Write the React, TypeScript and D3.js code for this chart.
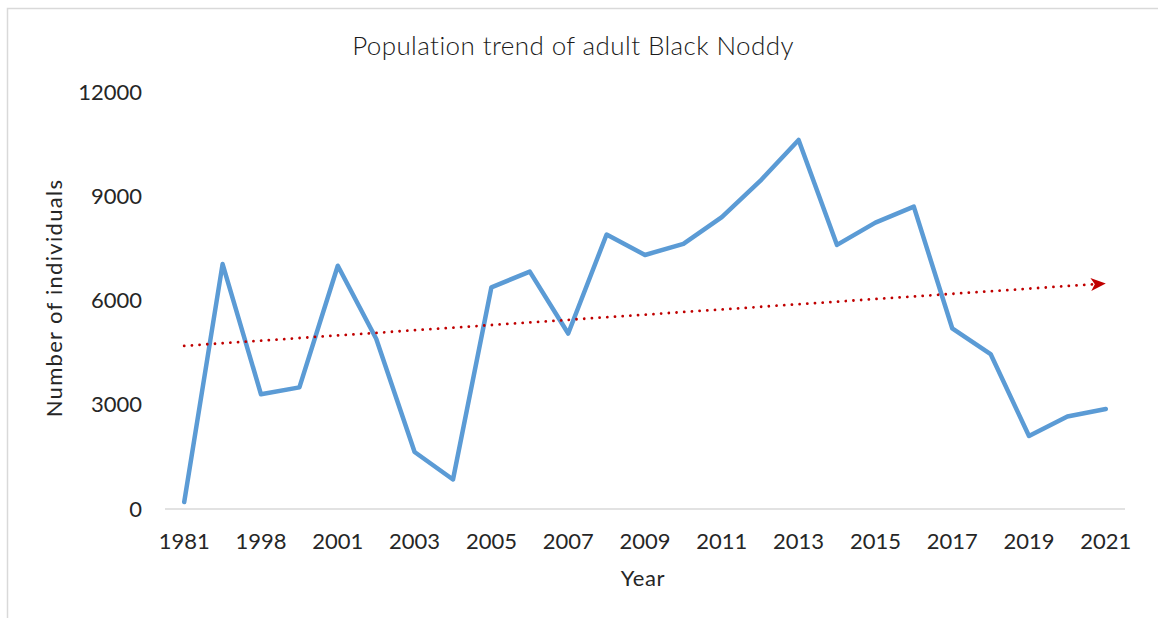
import React, { useEffect, useRef } from "react";
import * as d3 from "d3";

// Survey years (every other label is shown on the axis)
const years: string[] = [
  "1981", "1997", "1998", "2000", "2001", "2002", "2003", "2004", "2005",
  "2006", "2007", "2008", "2009", "2010", "2011", "2012", "2013", "2014",
  "2015", "2016", "2017", "2018", "2019", "2020", "2021",
];

// Adult Black Noddy counts
const counts: number[] = [
  200, 7050, 3300, 3500, 7000, 4900, 1640, 850, 6380, 6830, 5050, 7900, 7310,
  7630, 8400, 9440, 10620, 7600, 8240, 8700, 5200, 4460, 2100, 2660, 2880,
];

const yTicks: number[] = [0, 3000, 6000, 9000, 12000];

const W = 1158;
const H = 618;
const FONT = "Lato, 'Open Sans', sans-serif";

export default function App() {
  const ref = useRef<SVGSVGElement>(null);

  useEffect(() => {
    const svg = d3.select(ref.current);
    svg.selectAll("*").remove();

    const left = 165;
    const right = 1125;
    const top = 92;
    const bottom = 509;

    const x = d3.scaleBand<string>().domain(years).range([left, right]);
    const cx = (d: string) => (x(d) as number) + x.bandwidth() / 2;
    const y = d3.scaleLinear().domain([0, 12000]).range([bottom, top]);

    // chart frame
    svg.append("rect")
      .attr("x", 7.5).attr("y", 8.5)
      .attr("width", W + 100).attr("height", H + 100)
      .attr("fill", "#fff").attr("stroke", "#d9d9d9").attr("stroke-width", 1.5);

    // title
    svg.append("text")
      .attr("x", 573).attr("y", 55)
      .attr("text-anchor", "middle")
      .attr("font-family", FONT).attr("font-weight", 300)
      .attr("font-size", 26).attr("letter-spacing", 0.4).attr("fill", "#1a1a1a")
      .text("Population trend of adult Black Noddy");

    // category axis baseline
    svg.append("line")
      .attr("x1", left).attr("x2", right)
      .attr("y1", bottom).attr("y2", bottom)
      .attr("stroke", "#d9d9d9").attr("stroke-width", 1.5);

    // y tick labels
    svg.append("g").selectAll("text").data(yTicks).join("text")
      .attr("x", 142).attr("y", (d) => y(d))
      .attr("dy", "0.35em")
      .attr("text-anchor", "end")
      .attr("font-family", FONT).attr("font-size", 22).attr("fill", "#262626")
      .text((d) => String(d));

    // x tick labels (every second category)
    svg.append("g").selectAll("text")
      .data(years.filter((_, i) => i % 2 === 0)).join("text")
      .attr("x", (d) => cx(d)).attr("y", 541)
      .attr("dy", "0.35em")
      .attr("text-anchor", "middle")
      .attr("font-family", FONT).attr("font-size", 22).attr("fill", "#262626")
      .text((d) => d);

    // axis titles
    svg.append("text")
      .attr("x", 643).attr("y", 578).attr("dy", "0.35em")
      .attr("text-anchor", "middle")
      .attr("font-family", FONT).attr("font-size", 22).attr("letter-spacing", 0.6)
      .attr("fill", "#262626")
      .text("Year");
    svg.append("text")
      .attr("transform", "translate(54,298) rotate(-90)")
      .attr("dy", "0.35em")
      .attr("text-anchor", "middle")
      .attr("font-family", FONT).attr("font-size", 22).attr("letter-spacing", 1.3)
      .attr("fill", "#262626")
      .text("Number of individuals");

    // population line
    const line = d3.line<number>()
      .x((_, i) => cx(years[i]))
      .y((d) => y(d));
    svg.append("path")
      .datum(counts)
      .attr("d", line)
      .attr("fill", "none")
      .attr("stroke", "#5b9bd5")
      .attr("stroke-width", 4.5)
      .attr("stroke-linejoin", "round")
      .attr("stroke-linecap", "round");

    // linear trend (least squares over category index)
    const n = counts.length;
    const idx = d3.range(n);
    const mx = d3.mean(idx) as number;
    const my = d3.mean(counts) as number;
    const slope =
      d3.sum(idx, (i) => (i - mx) * (counts[i] - my)) /
      d3.sum(idx, (i) => (i - mx) * (i - mx));
    const intercept = my - slope * mx;
    const x0 = cx(years[0]);
    const x1 = cx(years[n - 1]);
    const y0 = y(intercept);
    const y1 = y(intercept + slope * (n - 1));

    const ang = Math.atan2(y1 - y0, x1 - x0);
    const arrowLen = 15;
    const bx = x1 - arrowLen * Math.cos(ang);
    const by = y1 - arrowLen * Math.sin(ang);

    svg.append("line")
      .attr("x1", x0).attr("y1", y0)
      .attr("x2", bx + 2 * Math.cos(ang)).attr("y2", by + 2 * Math.sin(ang))
      .attr("stroke", "#c00000")
      .attr("stroke-width", 2.8)
      .attr("stroke-linecap", "round")
      .attr("stroke-dasharray", "0.01 7.7");

    // stealth arrowhead at the trend's end
    const perpX = -Math.sin(ang);
    const perpY = Math.cos(ang);
    const half = 6.5;
    const notch = 4;
    const p = d3.path();
    p.moveTo(x1, y1);
    p.lineTo(bx + perpX * half, by + perpY * half);
    p.lineTo(bx + notch * Math.cos(ang), by + notch * Math.sin(ang));
    p.lineTo(bx - perpX * half, by - perpY * half);
    p.closePath();
    svg.append("path").attr("d", p.toString()).attr("fill", "#c00000");
  }, []);

  return (
    <div style={{ position: "fixed", left: 0, top: 0 }}>
      <svg ref={ref} width={W} height={H} style={{ display: "block" }} />
    </div>
  );
}
